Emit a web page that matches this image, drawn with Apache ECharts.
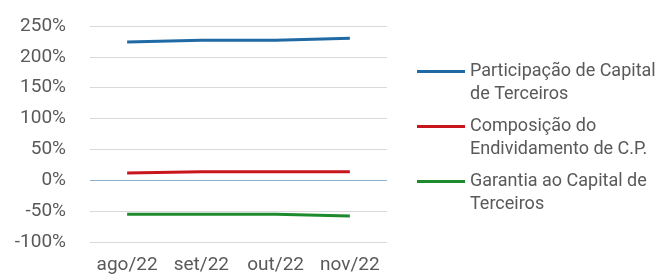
<!DOCTYPE html>
<html>
<head>
<meta charset="utf-8">
<script src="https://cdn.jsdelivr.net/npm/echarts@6/dist/echarts.min.js"></script>
<style>
  html, body { margin: 0; padding: 0; background: #fff; }
  #chart { width: 661px; height: 280px; }
</style>
</head>
<body>
<div id="chart"></div>
<script>
const categories = ["ago/22", "set/22", "out/22", "nov/22"];
const participacao = [224, 227, 227, 230];
const composicao = [12, 14, 14, 14];
const garantia = [-55, -55, -55, -58];
const seriesNames = [
  "Participação de Capital\nde Terceiros",
  "Composição do\nEndividamento de C.P.",
  "Garantia ao Capital de\nTerceiros",
];

const textColor = "#595959";
const font = "Roboto";

const chart = echarts.init(document.getElementById("chart"));

const makeSeries = (name, data, color, extra) => ({
  name,
  type: "line",
  data,
  symbol: "none",
  lineStyle: { color, width: 3 },
  itemStyle: { color },
  z: 3,
  ...extra,
});

chart.setOption({
  animation: false,
  grid: { left: 90, right: 274, top: 26, bottom: 38 },
  legend: {
    orient: "vertical",
    left: 417,
    top: 37,
    padding: 0,
    icon: "rect",
    itemWidth: 48,
    itemHeight: 3,
    itemGap: -14,
    data: seriesNames,
    // blank first line so the symbol lines up with the first text line
    formatter: (name) => " \n" + name,
    textStyle: {
      color: textColor,
      fontFamily: font,
      fontSize: 18,
      lineHeight: 23,
    },
  },
  xAxis: {
    type: "category",
    data: categories,
    axisLine: { show: false },
    axisTick: { show: false },
    axisLabel: {
      interval: 0,
      color: textColor,
      fontFamily: font,
      fontSize: 19,
      margin: 14,
    },
  },
  yAxis: {
    type: "value",
    min: -100,
    max: 250,
    interval: 50,
    axisLabel: {
      color: textColor,
      fontFamily: font,
      fontSize: 19,
      margin: 24,
      formatter: (v) => v + "%",
    },
    splitLine: { lineStyle: { color: "#d9d9d9", width: 1 } },
  },
  series: [
    makeSeries(seriesNames[0], participacao, "#1f6aa5"),
    makeSeries(seriesNames[1], composicao, "#c8161d", {
      markLine: {
        silent: true,
        symbol: "none",
        label: { show: false },
        lineStyle: { color: "#8fb0cc", width: 1, type: "solid" },
        data: [{ yAxis: 0 }],
        z: 2,
      },
    }),
    makeSeries(seriesNames[2], garantia, "#1e8a2e"),
  ],
});
</script>
</body>
</html>
